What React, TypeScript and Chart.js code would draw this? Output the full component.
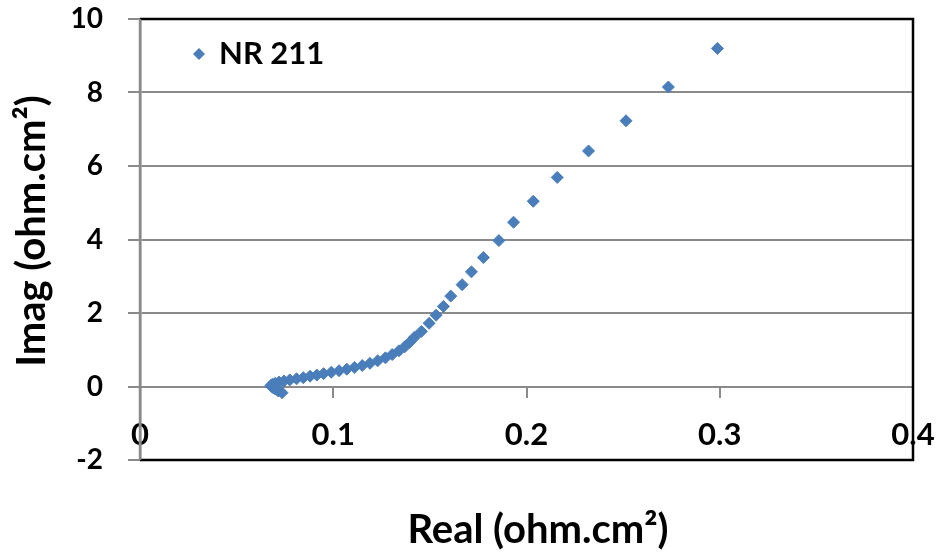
import React, { useEffect, useRef } from "react";
import { Chart, registerables } from "chart.js";

Chart.register(...registerables);

const seriesName = "NR 211";
const xTitle = "Real (ohm.cm²)";
const yTitle = "Imag (ohm.cm²)";

const realValues = [
  0.0735, 0.0715, 0.07, 0.0688, 0.068, 0.0678, 0.0685, 0.07, 0.072, 0.0745,
  0.0775, 0.081, 0.0845, 0.088, 0.0915, 0.095, 0.099, 0.103, 0.107, 0.111,
  0.115, 0.119, 0.123, 0.127, 0.1305, 0.134, 0.137, 0.1395, 0.142, 0.1456,
  0.1496, 0.1532, 0.157, 0.1608, 0.1667, 0.1715, 0.1777, 0.1857, 0.1933,
  0.2035, 0.2159, 0.2321, 0.2515, 0.2734, 0.2988,
];
const imagValues = [
  -0.17, -0.12, -0.07, -0.03, 0.0, 0.03, 0.06, 0.09, 0.12, 0.15,
  0.18, 0.21, 0.24, 0.28, 0.31, 0.35, 0.39, 0.43, 0.47, 0.52,
  0.57, 0.63, 0.7, 0.78, 0.87, 0.97, 1.08, 1.2, 1.34, 1.5,
  1.72, 1.94, 2.18, 2.46, 2.77, 3.12, 3.51, 3.97, 4.47,
  5.04, 5.69, 6.41, 7.23, 8.15, 9.2,
];

const xMin = 0;
const xMax = 0.4;
const xStep = 0.1;
const yMin = -2;
const yMax = 10;
const yStep = 2;

const FONT = "Lato, 'Open Sans', 'Liberation Sans', sans-serif";
const BLUE = "#4A7EBB";

const decorPlugin = {
  id: "decor",
  afterDraw(chart: any) {
    const { ctx, chartArea } = chart;
    const { left, right, top, bottom } = chartArea;
    ctx.save();
    // frame (top, right, bottom)
    ctx.strokeStyle = "#000";
    ctx.lineWidth = 2.5;
    ctx.beginPath();
    ctx.moveTo(left, top);
    ctx.lineTo(right, top);
    ctx.lineTo(right, bottom);
    ctx.lineTo(left, bottom);
    ctx.stroke();
    // y axis line on top
    ctx.strokeStyle = "#8a8a8a";
    ctx.lineWidth = 2.5;
    ctx.beginPath();
    ctx.moveTo(left, top);
    ctx.lineTo(left, bottom);
    ctx.stroke();

    // legend
    const lx = 199;
    const ly = 54;
    const r = 6;
    ctx.fillStyle = BLUE;
    ctx.beginPath();
    ctx.moveTo(lx - r, ly);
    ctx.lineTo(lx, ly - r);
    ctx.lineTo(lx + r, ly);
    ctx.lineTo(lx, ly + r);
    ctx.closePath();
    ctx.fill();
    ctx.fillStyle = "#000";
    ctx.font = `bold 31px ${FONT}`;
    ctx.textAlign = "left";
    ctx.textBaseline = "middle";
    ctx.fillText(seriesName, 219, ly);

    // axis titles
    ctx.font = `bold 40px ${FONT}`;
    ctx.textAlign = "center";
    ctx.textBaseline = "middle";
    ctx.fillText(xTitle, 538, 530);
    ctx.translate(32, 231);
    ctx.rotate(-Math.PI / 2);
    ctx.fillText(yTitle, 0, 0);
    ctx.restore();
  },
};

export default function App() {
  const canvasRef = useRef<HTMLCanvasElement | null>(null);

  useEffect(() => {
    document.body.style.margin = "0";
    const canvas = canvasRef.current;
    if (!canvas) return;
    const points = realValues.map((x, i) => ({ x, y: imagValues[i] }));
    const chart = new Chart(canvas, {
      type: "scatter",
      data: {
        datasets: [
          {
            label: seriesName,
            data: points,
            pointStyle: "rectRot",
            pointRadius: 6,
            pointBackgroundColor: BLUE,
            pointBorderColor: BLUE,
            pointBorderWidth: 1,
            showLine: false,
          },
        ],
      },
      options: {
        responsive: false,
        animation: false,
        devicePixelRatio: 1,
        layout: { padding: { left: 0, right: 25, top: 19, bottom: 93 } },
        plugins: {
          legend: { display: false },
          tooltip: { enabled: false },
        },
        scales: {
          x: {
            type: "linear",
            position: { y: 0 } as any,
            min: xMin,
            max: xMax,
            afterFit: (scale: any) => {
              scale.paddingLeft = 0;
              scale.paddingRight = 0;
            },
            ticks: {
              stepSize: xStep,
              color: "#000",
              font: { family: FONT, size: 31, weight: "bold" },
              padding: 20,
              maxRotation: 0,
              callback: (v: any) => String(Math.round(Number(v) * 10) / 10),
            },
            grid: {
              drawOnChartArea: false,
              drawTicks: true,
              tickLength: 10,
              color: "#8a8a8a",
              lineWidth: 2,
            },
            border: { color: "#8a8a8a", width: 2 },
          },
          y: {
            type: "linear",
            min: yMin,
            max: yMax,
            afterFit: (scale: any) => {
              scale.width = 140;
              scale.paddingTop = 0;
              scale.paddingBottom = 0;
            },
            ticks: {
              stepSize: yStep,
              color: "#000",
              font: { family: FONT, size: 28, weight: "bold" },
              padding: 25,
            },
            grid: {
              color: "#8a8a8a",
              lineWidth: 2,
              tickLength: 12,
            },
            border: { color: "#8a8a8a", width: 2.5 },
          },
        },
      },
      plugins: [decorPlugin],
    });
    return () => chart.destroy();
  }, []);

  return (
    <div style={{ width: 938, height: 553, background: "#fff" }}>
      <canvas ref={canvasRef} width={938} height={553} />
    </div>
  );
}
